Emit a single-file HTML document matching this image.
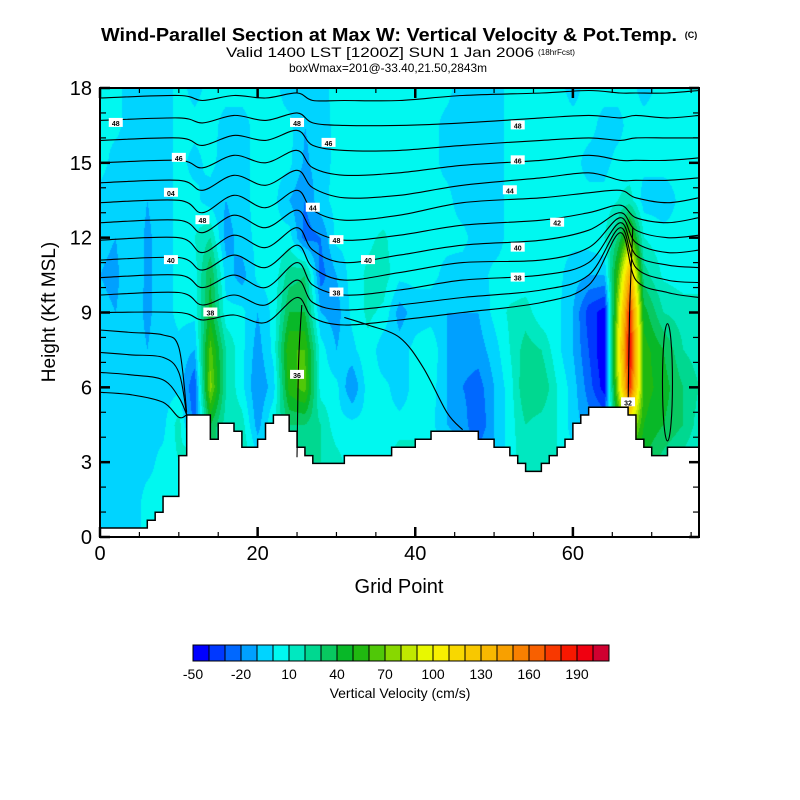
<!DOCTYPE html>
<html><head><meta charset="utf-8">
<style>
body{margin:0;background:#fff;width:800px;height:800px;overflow:hidden;font-family:"Liberation Sans",sans-serif;}
#wrap{position:relative;width:800px;height:800px;}
canvas{position:absolute;left:100px;top:88px;}
svg{position:absolute;left:0;top:0;}
</style></head>
<body>
<div id="wrap">
<canvas id="field" width="599" height="449"></canvas>
<svg id="svg" width="800" height="800">
<text x="101" y="41" font-size="18" font-weight="bold" textLength="576" lengthAdjust="spacingAndGlyphs">Wind-Parallel Section at Max W: Vertical Velocity &amp; Pot.Temp.</text>
<text x="691" y="38" text-anchor="middle" font-size="9" font-weight="bold">(C)</text>
<text x="226" y="57" font-size="14" textLength="308" lengthAdjust="spacingAndGlyphs">Valid 1400 LST [1200Z] SUN 1 Jan 2006</text>
<text x="538" y="55" font-size="8" textLength="37" lengthAdjust="spacingAndGlyphs">(18hrFcst)</text>
<text x="289" y="72" font-size="12" textLength="198" lengthAdjust="spacingAndGlyphs">boxWmax=201@-33.40,21.50,2843m</text>
<g id="terrain"></g>
<g id="theta"></g>
<g id="axes"></g>
<g id="cbar"></g>
<text x="399" y="593" text-anchor="middle" font-size="20">Grid Point</text>
<text transform="translate(55,312) rotate(-90)" text-anchor="middle" font-size="19">Height (Kft MSL)</text>
<text x="400" y="698" text-anchor="middle" font-size="14">Vertical Velocity (cm/s)</text>
</svg>
</div>
<script>
// ---- data ----
const gridCols = [0,2,4,6,8,10,12,14,16,18,20,22,24,26,28,30,32,34,36,38,40,42,44,46,48,50,52,54,56,58,60,62,64,65.7,67.2,69,71.5,74,76];
const gridRows = [18,16.5,15,13.5,12,10.5,9,7.5,6,4.5,3,1.5,0];
const w18  = [3,3,-5,-8,-5,3,-3,3,3,3,3,3,-5,-8,-3,3,3,3,3,3,3,3,3,-5,-8,-5,3,3,3,3,-3,3,3,3,3,-3,3,3,3];
const w165 = [3,3,-5,-10,-5,3,3,3,-3,-3,3,3,3,-10,-5,3,3,3,3,3,3,3,-3,-5,-8,-5,3,3,3,3,3,3,-3,-3,3,3,3,3,3];
const w15  = [5,-5,-5,-10,-5,3,-3,3,-5,-3,3,3,3,-12,-5,3,3,3,3,3,3,3,-3,-5,-8,-5,3,3,3,3,3,-3,-3,3,3,3,3,3,3];
const w135 = [-5,-8,-3,-10,-5,3,3,-5,-10,-3,3,3,-10,-20,-3,3,3,3,3,3,3,3,3,-5,-8,-5,3,3,3,3,3,3,3,10,15,-5,-5,3,3];
const w12  = [-8,-10,-3,-12,-5,3,10,20,-15,-5,3,3,5,-25,-20,3,3,8,12,3,3,3,3,3,-5,-5,3,3,3,3,3,5,10,30,70,10,3,3,3];
const w105 = [-10,-12,-3,-12,-5,3,5,40,-5,-15,3,3,25,30,-25,-10,5,12,15,3,3,3,-3,-5,-5,3,3,3,3,3,-5,-10,-10,60,140,25,8,5,8];
const w9   = [-8,-10,-5,-12,-5,3,3,45,3,3,-10,3,40,40,-10,-15,3,12,8,-15,-5,-5,-10,-10,-10,3,12,15,3,3,-10,-35,-45,80,180,45,20,15,12];
const w75  = [-5,-5,-5,-10,-5,-3,-10,65,20,3,-15,3,60,60,5,-10,-3,8,-8,-5,3,8,-10,-15,-15,-5,10,25,20,3,-10,-30,-50,90,195,55,40,20,15];
const w6   = [-3,-5,-5,-8,-5,-3,-30,75,20,3,-20,-5,55,65,5,3,-20,5,3,-5,3,5,-10,-20,-25,-10,5,30,30,10,-5,-25,-45,80,180,55,45,30,20];
const w45  = [-5,-5,-5,-3,-3,15,-25,40,15,15,-15,10,30,30,20,3,3,3,3,3,3,3,-10,-15,-30,-10,5,20,15,10,-5,-15,-20,40,90,50,40,30,15];
const w3   = [-5,-5,-3,-3,3,10,30,30,20,20,3,5,25,20,20,15,3,3,3,20,20,10,3,-10,-10,-10,3,20,10,10,3,3,10,30,40,40,25,15,8];
const w15b = [-5,-5,-5,3,3,5,10,10,10,10,10,10,10,10,10,10,10,10,10,10,10,10,10,10,10,10,10,10,10,10,10,10,10,10,10,10,10,10,10];
const w0   = [-5,-5,-5,3,3,5,10,10,10,10,10,10,10,10,10,10,10,10,10,10,10,10,10,10,10,10,10,10,10,10,10,10,10,10,10,10,10,10,10];
const wRows = [w18,w165,w15,w135,w12,w105,w9,w75,w6,w45,w3,w15b,w0];
const terrain = [0.36,0.36,0.36,0.36,0.36,0.36,0.67,0.99,1.63,1.63,3.26,4.89,4.89,4.89,3.92,4.56,4.56,4.24,3.6,3.6,3.92,4.56,4.89,4.89,4.24,3.6,3.26,2.95,2.95,2.95,2.95,3.26,3.26,3.26,3.26,3.26,3.26,3.6,3.6,3.6,3.92,3.92,4.24,4.24,4.24,4.24,4.24,4.24,3.92,3.92,3.6,3.6,3.26,2.95,2.63,2.63,2.95,3.26,3.6,3.92,4.56,4.89,5.2,5.2,5.2,5.2,5.2,4.89,3.92,3.6,3.26,3.26,3.6,3.6,3.6,3.6];
const thetaX = [0,10,13,17,21,25,27,31,38,46,56,62,66,68,72,76];
const theta1 = [17.6,17.7,17.5,17.7,17.6,17.8,17.5,17.5,17.5,17.7,17.8,17.9,17.8,17.8,17.8,17.9];
const theta2 = [16.7,16.8,16.6,16.9,16.7,17.0,16.6,16.5,16.5,16.6,16.8,16.9,16.8,16.9,16.8,16.9];
const theta3 = [15.9,16.0,15.7,16.1,15.9,16.3,15.7,15.5,15.5,15.7,15.9,16.0,15.9,16.0,16.0,16.0];
const theta4 = [15.0,15.1,14.8,15.3,15.0,15.5,14.8,14.5,14.6,14.9,15.1,15.3,15.1,15.1,15.1,15.2];
const theta5 = [14.2,14.3,13.9,14.5,14.1,14.7,14.0,13.6,13.7,14.1,14.4,14.6,14.3,14.3,14.3,14.4];
const theta6 = [13.4,13.5,13.0,13.7,13.2,13.9,13.1,12.7,12.9,13.4,13.6,13.8,13.9,13.6,13.4,13.6];
const theta7 = [12.6,12.7,12.2,12.9,12.4,13.1,12.3,11.9,12.1,12.5,12.7,13.0,13.3,12.8,12.6,12.8];
const theta8 = [11.9,12.0,11.4,12.1,11.6,12.4,11.5,11.0,11.3,11.7,11.9,12.3,13.0,12.3,12.0,12.1];
const theta9 = [11.1,11.2,10.7,11.3,10.8,11.7,10.8,10.3,10.6,11.0,11.1,11.6,12.8,11.8,11.4,11.5];
const theta10= [10.4,10.5,10.0,10.5,10.0,11.0,10.1,9.7,9.9,10.3,10.5,11.0,12.6,11.3,10.9,10.8];
const theta11= [9.7,9.8,9.3,9.7,9.3,10.3,9.4,9.1,9.3,9.6,9.9,10.5,12.4,10.8,10.3,10.2];
const theta12= [9.0,9.0,8.7,8.9,8.6,9.6,8.8,8.5,8.7,9.0,9.4,10.1,12.2,10.3,9.8,9.6];
const thetaLines = [theta1,theta2,theta3,theta4,theta5,theta6,theta7,theta8,theta9,theta10,theta11,theta12];
const lowX = [0,4,8,10,11];
const low1 = [8.3,8.2,8.1,7.6,5.0];
const low2 = [7.4,7.3,7.2,6.6,4.9];
const low3 = [6.6,6.5,6.3,5.6,4.9];
const low4 = [5.8,5.7,5.4,4.8,4.9];
const lowLines = [low1,low2,low3,low4];
const cbLevels = [-50,-40,-30,-20,-10,0,10,20,30,40,50,60,70,80,90,100,110,120,130,140,150,160,170,180,190,200];
const cbColors = ["#0000ff","#0038ff","#0068ff","#00a0ff","#00d4ff","#00f8f0","#00e8c0","#00d890","#08c860","#08b828","#20b810","#50c808","#88d800","#c0e800","#e8f800","#f8f000","#f8d800","#f8c800","#f8b800","#f8a000","#f88000","#f86000","#f83800","#f81800","#f00010","#d00030"];
const cbTicks = [-50,-20,10,40,70,100,130,160,190];
const xTicks = [0,20,40,60];
const yTicks = [0,3,6,9,12,15,18];

// ---- scales ----
const X0=100,X1=699,Y0=537,Y1=88,GMAX=76,KMAX=18;
const xs = g => X0 + g*(X1-X0)/GMAX;
const ys = k => Y0 - k*(Y0-Y1)/KMAX;
const NS="http://www.w3.org/2000/svg";
function mk(tag,attrs,parent){const e=document.createElementNS(NS,tag);for(const k in attrs)e.setAttribute(k,attrs[k]);parent.appendChild(e);return e;}

// ---- field ----
function colorFor(v){let i=Math.floor((v-cbLevels[0])/10);i=Math.max(0,Math.min(cbColors.length-1,i));return cbColors[i];}
function interp(g,k){
  let ci=0;while(ci<gridCols.length-2 && g>gridCols[ci+1])ci++;
  let fx=(g-gridCols[ci])/(gridCols[ci+1]-gridCols[ci]);
  let ri=0;while(ri<gridRows.length-2 && k<gridRows[ri+1])ri++;
  let fy=(gridRows[ri]-k)/(gridRows[ri]-gridRows[ri+1]);
  fx=Math.max(0,Math.min(1,fx));fy=Math.max(0,Math.min(1,fy));
  const a=wRows[ri][ci],b=wRows[ri][ci+1],c=wRows[ri+1][ci],d=wRows[ri+1][ci+1];
  return a*(1-fx)*(1-fy)+b*fx*(1-fy)+c*(1-fx)*fy+d*fx*fy;
}
const ctx=document.getElementById('field').getContext('2d');
const W=599,H=449;
for(let py=0;py<H;py++){
  const k=(Y0-(py+Y1+0.5))*KMAX/(Y0-Y1);
  let prev=null,start=0;
  for(let px=0;px<=W;px++){
    let col=null;
    if(px<W){const g=(px+0.5)*GMAX/(X1-X0);col=colorFor(interp(g,k));}
    if(col!==prev){if(prev){ctx.fillStyle=prev;ctx.fillRect(start,py,px-start,1);}prev=col;start=px;}
  }
}

// ---- terrain ----
const tg=document.getElementById('terrain');
let d=`M${xs(0)},${Y0}`;
terrain.forEach((h,i)=>{d+=` L${xs(i)},${ys(h)} L${xs(i+1)},${ys(h)}`;});
d+=` L${xs(GMAX)},${Y0} Z`;
const tp=mk('path',{d:d,fill:'#fff',stroke:'#000','stroke-width':1.5},tg);



// ---- theta contours (smoothed) ----
const th=document.getElementById('theta');
function line(xarr,karr,name){
  const P=xarr.map((g,i)=>[xs(g),ys(karr[i])]);
  let p='M'+P[0][0].toFixed(1)+','+P[0][1].toFixed(1);
  for(let i=0;i<P.length-1;i++){
    const p0=P[Math.max(0,i-1)],p1=P[i],p2=P[i+1],p3=P[Math.min(P.length-1,i+2)];
    const c1=[p1[0]+(p2[0]-p0[0])/6,p1[1]+(p2[1]-p0[1])/6];
    const c2=[p2[0]-(p3[0]-p1[0])/6,p2[1]-(p3[1]-p1[1])/6];
    p+=` C${c1[0].toFixed(1)},${c1[1].toFixed(1)} ${c2[0].toFixed(1)},${c2[1].toFixed(1)} ${p2[0].toFixed(1)},${p2[1].toFixed(1)}`;
  }
  const e=mk('path',{d:p,fill:'none',stroke:'#000','stroke-width':1.1},th);
  
  
}
thetaLines.forEach((l,i)=>line(thetaX,l,'theta-contour-'+(i+1)));
lowLines.forEach((l,i)=>line(lowX,l,'theta-low-contour-'+(i+1)));
line([25,25.2,25.6],[3.2,7,9.3],'theta-contour-updraft-1');
line([67,67.2,67.6],[5.2,9,12.4],'theta-contour-updraft-2');
line([31,34,38,41,44,46],[8.8,8.5,8.0,6.8,5,4.3],'theta-contour-mid');
const ell=mk('ellipse',{cx:xs(72),cy:ys(6.2),rx:5,ry:(ys(3.9)-ys(8.6))/2,fill:'none',stroke:'#000','stroke-width':1.1},th);


const labels=[[2,16.6,'48'],[10,15.2,'46'],[9,13.8,'04'],[13,12.7,'48'],[9,11.1,'40'],[14,9,'38'],[25,16.6,'48'],[29,15.8,'46'],[27,13.2,'44'],[30,11.9,'48'],[34,11.1,'40'],[30,9.8,'38'],[25,6.5,'36'],[53,16.5,'48'],[53,15.1,'46'],[52,13.9,'44'],[58,12.6,'42'],[53,11.6,'40'],[53,10.4,'38'],[67,5.4,'32']];
labels.forEach(([g,k,t])=>{
  const r=mk('rect',{x:xs(g)-7,y:ys(k)-5,width:14,height:9,fill:'#fff'},th);
  
  
  const tx=mk('text',{x:xs(g),y:ys(k)+3,'font-size':7,'font-weight':'bold','text-anchor':'middle'},th);
  tx.textContent=t;
  
  
});

// ---- axes ----
const ax=document.getElementById('axes');
const frame=mk('rect',{x:X0,y:Y1,width:X1-X0,height:Y0-Y1,fill:'none',stroke:'#000','stroke-width':2},ax);


for(let g=0;g<=GMAX;g+=5){
  const major=(g%20===0);
  const L=major?10:5;
  mk('line',{x1:xs(g),x2:xs(g),y1:Y0,y2:Y0-L,stroke:'#000','stroke-width':major?2.5:1.2},ax);
  mk('line',{x1:xs(g),x2:xs(g),y1:Y1,y2:Y1+L,stroke:'#000','stroke-width':major?2.5:1.2},ax);
}
for(let k=0;k<=KMAX;k++){
  const major=(k%3===0);const L=major?10:6;
  mk('line',{x1:X0,x2:X0+L,y1:ys(k),y2:ys(k),stroke:'#000','stroke-width':major?2.5:1.2},ax);
  mk('line',{x1:X1,x2:X1-L,y1:ys(k),y2:ys(k),stroke:'#000','stroke-width':major?2.5:1.2},ax);
}
xTicks.forEach(v=>{
  const t=mk('text',{x:xs(v),y:560,'font-size':20,'text-anchor':'middle'},ax);
  t.textContent=v;
  
  
});
yTicks.forEach(v=>{
  const t=mk('text',{x:92,y:ys(v)+7,'font-size':20,'text-anchor':'end'},ax);
  t.textContent=v;
  
  
});

// ---- colorbar ----
const cb=document.getElementById('cbar');
const CBX=193,CBW=16,CBY=645,CBH=16;
cbColors.forEach((c,i)=>{
  const r=mk('rect',{x:CBX+i*CBW,y:CBY,width:CBW,height:CBH,fill:c,stroke:'#000','stroke-width':1},cb);
  
  
});
cbTicks.forEach(v=>{
  const t=mk('text',{x:CBX+(v-cbLevels[0])/10*CBW,y:679,'font-size':14,'text-anchor':'middle'},cb);
  t.textContent=v;
  
  
});
</script>
</body></html>
